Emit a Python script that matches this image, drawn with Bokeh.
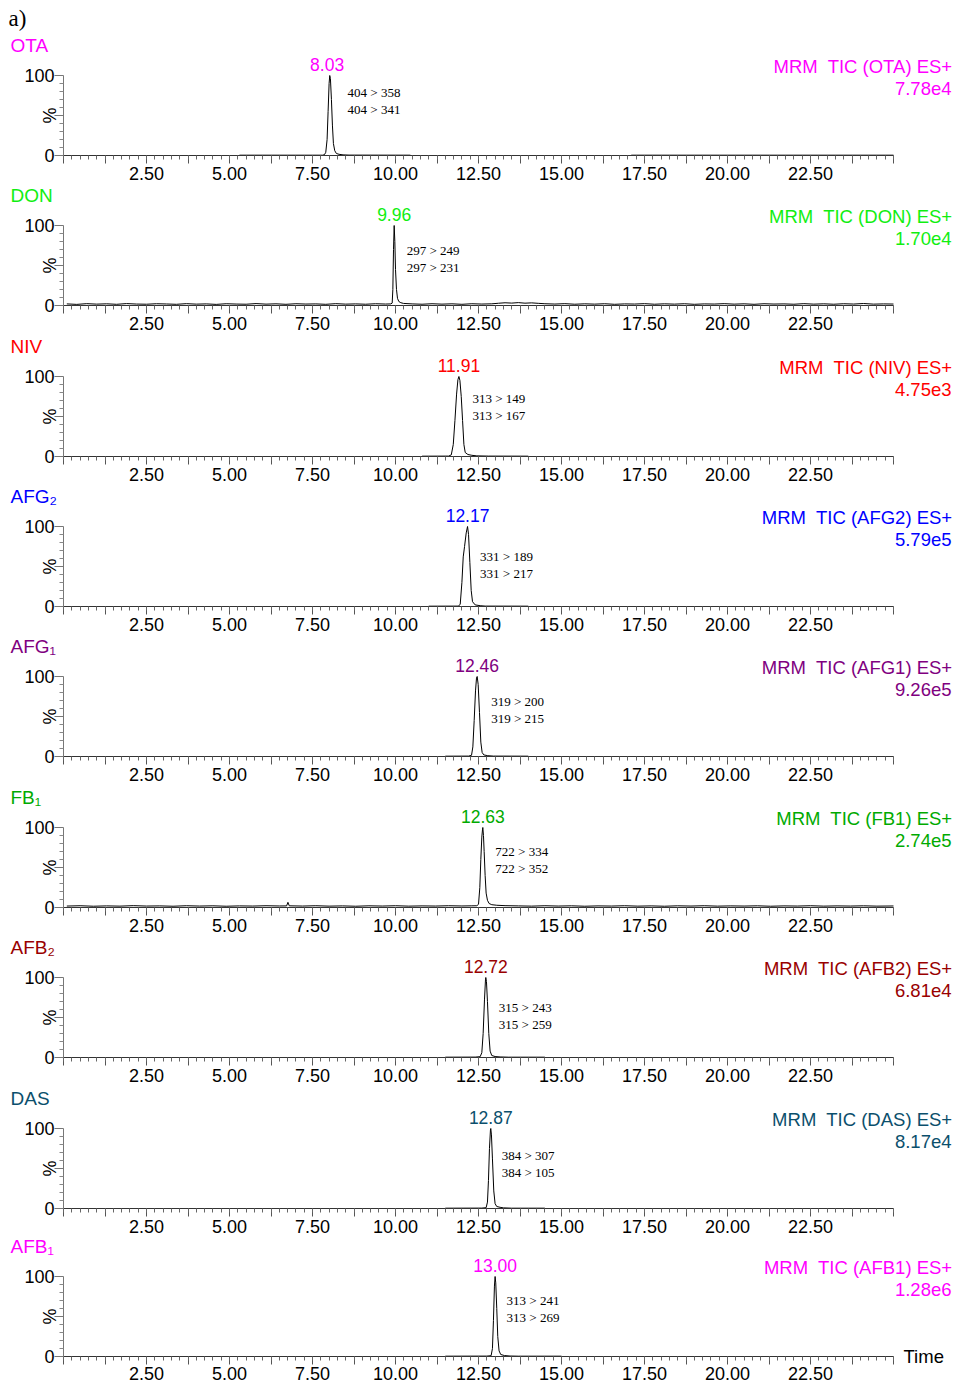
import math
from bokeh.plotting import figure
from bokeh.models import Range1d, FixedTicker, Label
from bokeh.layouts import column
from bokeh.embed import file_html
from bokeh.resources import INLINE

NaN = float("nan")

# ---------------- data ----------------
names = ["OTA", "DON", "NIV", "AFG\u2082", "AFG\u2081", "FB\u2081", "AFB\u2082", "DAS", "AFB\u2081"]
colors = ["#FF00FF", "#11EE11", "#FF0000", "#0000FF", "#800080", "#00AA00", "#990000", "#0B4F6C", "#FF00FF"]
peak_labels = ["8.03", "9.96", "11.91", "12.17", "12.46", "12.63", "12.72", "12.87", "13.00"]
peak_times = [8.03, 9.96, 11.91, 12.17, 12.46, 12.63, 12.72, 12.87, 13.00]
channels = ["MRM\u00a0 TIC (OTA) ES+", "MRM\u00a0 TIC (DON) ES+", "MRM\u00a0 TIC (NIV) ES+", "MRM\u00a0 TIC (AFG2) ES+",
            "MRM\u00a0 TIC (AFG1) ES+", "MRM\u00a0 TIC (FB1) ES+", "MRM\u00a0 TIC (AFB2) ES+", "MRM\u00a0 TIC (DAS) ES+",
            "MRM\u00a0 TIC (AFB1) ES+"]
max_intensity = ["7.78e4", "1.70e4", "4.75e3", "5.79e5", "9.26e5", "2.74e5", "6.81e4", "8.17e4", "1.28e6"]
transition_1 = ["404 > 358", "297 > 249", "313 > 149", "331 > 189", "319 > 200", "722 > 334", "315 > 243", "384 > 307", "313 > 241"]
transition_2 = ["404 > 341", "297 > 231", "313 > 167", "331 > 217", "319 > 215", "722 > 352", "315 > 259", "384 > 105", "313 > 269"]

x_tick_values = [2.5, 5.0, 7.5, 10.0, 12.5, 15.0, 17.5, 20.0, 22.5]
x_tick_labels = ["2.50", "5.00", "7.50", "10.00", "12.50", "15.00", "17.50", "20.00", "22.50"]
y_tick_values = [0, 100]
y_tick_labels = ["0", "100"]

# chromatogram traces: (time min, relative intensity %)
ota = [(5.30, 0.4), (7.80, 0.4), (7.86, 1.0), (7.90, 4), (7.94, 20), (7.97, 55), (8.00, 90), (8.02, 100),
       (8.04, 96), (8.07, 70), (8.10, 38), (8.13, 15), (8.17, 6), (8.22, 2.5), (8.30, 1.5), (8.42, 0.8),
       (8.60, 0.5), (10.45, 0.4), (NaN, NaN), (17.10, 0.4), (25.00, 0.4)]

don = [(0.10, 2.0), (0.40, 1.4), (0.70, 2.3), (1.00, 1.7), (1.30, 2.1), (1.60, 1.5), (1.90, 2.4), (2.20, 1.8),
       (2.50, 1.6), (2.80, 2.2), (3.10, 1.9), (3.40, 1.5), (3.70, 2.3), (4.00, 1.7), (4.30, 2.0), (4.60, 1.4),
       (4.90, 2.2), (5.20, 1.8), (5.50, 1.6), (5.80, 2.4), (6.10, 1.7), (6.40, 2.1), (6.70, 1.5), (7.00, 2.2),
       (7.30, 1.8), (7.60, 2.0), (7.90, 1.5), (8.20, 2.3), (8.50, 1.7), (8.80, 2.0), (9.10, 1.6), (9.40, 2.2),
       (9.70, 1.8), (9.86, 2.0), (9.90, 3.0), (9.92, 20), (9.94, 70), (9.96, 100), (9.98, 80), (10.00, 45),
       (10.03, 20), (10.06, 9), (10.10, 5), (10.16, 3.5), (10.24, 2.6), (10.50, 2.0), (10.80, 1.6), (11.10, 2.2),
       (11.40, 1.7), (11.70, 2.1), (12.00, 1.5), (12.30, 2.2), (12.60, 1.8), (12.90, 2.1), (13.10, 2.8),
       (13.30, 3.4), (13.50, 3.0), (13.70, 3.6), (13.90, 2.9), (14.10, 3.3), (14.30, 2.7), (14.50, 2.2),
       (14.80, 1.8), (15.10, 2.3), (15.40, 1.6), (15.70, 2.1), (16.00, 1.7), (16.30, 2.2), (16.60, 1.5),
       (16.90, 2.0), (17.20, 1.8), (17.50, 2.3), (17.80, 1.6), (18.10, 2.1), (18.40, 1.7), (18.70, 2.2),
       (19.00, 1.5), (19.30, 2.0), (19.60, 1.8), (19.90, 2.3), (20.20, 1.7), (20.50, 2.1), (20.80, 1.5),
       (21.10, 2.2), (21.40, 1.8), (21.70, 2.0), (22.00, 1.6), (22.30, 2.3), (22.60, 1.7), (22.90, 2.1),
       (23.20, 1.6), (23.50, 2.2), (23.80, 1.8), (24.10, 2.5), (24.40, 1.7), (24.70, 2.0), (25.00, 1.8)]

niv = [(10.80, 0.4), (11.60, 0.5), (11.68, 2), (11.74, 15), (11.79, 45), (11.84, 78), (11.88, 96), (11.91, 100),
       (11.94, 95), (11.98, 75), (12.02, 45), (12.06, 15), (12.10, 5), (12.18, 2.5), (12.30, 1.5), (12.45, 0.8),
       (12.80, 0.5), (14.00, 0.4)]

afg2 = [(11.00, 0.4), (11.90, 0.5), (11.95, 3), (12.00, 30), (12.04, 62), (12.08, 75), (12.13, 92), (12.17, 100),
        (12.20, 90), (12.24, 55), (12.28, 20), (12.32, 6), (12.40, 2), (12.55, 1), (12.70, 0.5), (14.00, 0.4)]

afg1 = [(11.50, 0.4), (12.20, 0.5), (12.29, 1.5), (12.33, 12), (12.37, 45), (12.41, 82), (12.44, 98), (12.46, 100),
        (12.49, 90), (12.53, 55), (12.57, 18), (12.61, 5), (12.66, 2), (12.78, 1), (12.95, 0.5), (14.00, 0.4)]

fb1 = [(0.10, 1.8), (0.50, 2.2), (0.90, 1.6), (1.30, 2.0), (1.70, 1.7), (2.10, 2.3), (2.50, 1.8), (2.90, 2.0),
       (3.30, 1.6), (3.70, 2.2), (4.10, 1.8), (4.50, 2.1), (4.90, 1.6), (5.30, 2.0), (5.70, 1.8), (6.10, 2.2),
       (6.50, 1.9), (6.72, 2.0), (6.76, 6.5), (6.80, 2.1), (7.20, 1.8), (7.60, 2.2), (8.00, 1.7), (8.40, 2.0),
       (8.80, 1.6), (9.20, 2.1), (9.60, 1.8), (10.00, 2.2), (10.40, 1.7), (10.80, 2.0), (11.20, 1.8), (11.60, 2.2),
       (12.00, 1.9), (12.30, 2.1), (12.45, 2.2), (12.50, 4), (12.54, 25), (12.57, 60), (12.60, 88), (12.62, 97),
       (12.63, 100), (12.65, 90), (12.67, 70), (12.70, 40), (12.73, 18), (12.77, 9), (12.82, 5), (12.90, 3.5),
       (13.05, 2.8), (13.30, 2.3), (13.70, 2.0), (14.10, 1.7), (14.50, 2.2), (14.90, 1.8), (15.30, 2.1),
       (15.70, 1.6), (16.10, 2.0), (16.50, 1.8), (16.90, 2.2), (17.30, 1.7), (17.70, 2.0), (18.10, 1.6),
       (18.50, 2.1), (18.90, 1.8), (19.30, 2.2), (19.70, 1.7), (20.10, 2.0), (20.50, 1.8), (20.90, 2.1),
       (21.30, 1.6), (21.70, 2.0), (22.10, 1.8), (22.50, 2.2), (22.90, 1.7), (23.30, 2.0), (23.70, 1.8),
       (24.10, 2.1), (24.50, 1.7), (25.00, 1.9)]

afb2 = [(11.50, 0.4), (12.40, 0.5), (12.55, 1), (12.60, 6), (12.64, 30), (12.68, 72), (12.71, 97), (12.72, 100),
        (12.74, 95), (12.77, 70), (12.81, 30), (12.85, 8), (12.90, 2.5), (13.00, 1.2), (13.15, 0.7), (13.40, 0.4),
        (14.50, 0.4)]

das = [(11.50, 0.4), (12.60, 0.5), (12.73, 1), (12.77, 8), (12.80, 35), (12.83, 75), (12.86, 98), (12.87, 100),
       (12.89, 92), (12.92, 62), (12.96, 22), (13.00, 6), (13.05, 2.5), (13.15, 1.5), (13.25, 0.8), (13.50, 0.4),
       (14.50, 0.4)]

afb1 = [(11.50, 0.4), (12.75, 0.5), (12.88, 1), (12.92, 10), (12.95, 45), (12.98, 88), (13.00, 100), (13.02, 92),
        (13.05, 60), (13.08, 25), (13.12, 7), (13.17, 2.5), (13.28, 1.2), (13.45, 0.6), (13.70, 0.4), (15.00, 0.4)]

traces = [ota, don, niv, afg2, afg1, fb1, afb2, das, afb1]

# ---------------- layout / style ----------------
FIG_W = 960
X0 = 63.0            # page x of time 0
PX_X = 33.2          # px per minute
PX_Y = 0.8           # px per percent
FONT = "Liberation Sans"
SERIF = "Liberation Serif"
top100 = [75, 225, 376, 526, 676, 827, 977, 1128, 1276]            # page y of 100 %
bounds = [0, 183, 334, 484, 635, 785, 936, 1086, 1237, 1385]        # panel borders (page y)
trans_dy = [17, 25, 22, 30, 25, 24, 30, 27, 24]                    # px below 100 %
trans_dx = [17.5, 12.5, 13.5, 12.5, 14, 12.5, 13, 11, 11.5]          # px right of peak
rt_dx = [-3, 0, 0, 0, 0, 0, 0, 0, 0]                                # px shift of RT label


def xd(px):
    return (px - X0) / PX_X


x_major = [i * 1.25 for i in range(21)]
x_minor = [i * 0.25 for i in range(101)]
x_over = {t: "" for t in x_major}
x_over.update(dict(zip(x_tick_values, x_tick_labels)))
y_over = {0: "", 50: "", 100: ""}
y_over.update(dict(zip(y_tick_values, y_tick_labels)))

n = len(names)
figs = []
for k in range(n):
    h = bounds[k + 1] - bounds[k]
    y_top = 100 + (top100[k] - bounds[k]) / PX_Y
    y_bot = 100 - (bounds[k + 1] - top100[k]) / PX_Y
    p = figure(width=FIG_W, height=h, x_range=Range1d(xd(0), xd(FIG_W)), y_range=Range1d(y_bot, y_top),
               output_backend="svg", toolbar_location=None, min_border=0,
               min_border_left=0, min_border_right=0, min_border_top=0, min_border_bottom=0)
    p.outline_line_color = None
    p.grid.visible = False
    p.background_fill_color = "white"
    p.border_fill_color = "white"

    xa = p.xaxis[0]
    xa.fixed_location = 0
    xa.bounds = (0, 25)
    xa.ticker = FixedTicker(ticks=x_major, minor_ticks=x_minor)
    xa.major_label_overrides = x_over
    xa.major_tick_out = 8
    xa.major_tick_in = 0
    xa.minor_tick_out = 4
    xa.minor_tick_in = 0
    xa.major_label_standoff = 2 if k == n - 1 else 3
    xa.major_label_text_font = FONT
    xa.major_label_text_font_size = "18px"
    xa.major_label_text_color = "black"
    xa.axis_line_color = "#333333"
    xa.major_tick_line_color = "#555555"
    xa.minor_tick_line_color = "#666666"

    ya = p.yaxis[0]
    ya.fixed_location = 0
    ya.bounds = (0, 100)
    ya.ticker = FixedTicker(ticks=[0, 50, 100], minor_ticks=[10, 20, 30, 40, 60, 70, 80, 90])
    ya.major_label_overrides = y_over
    ya.major_tick_out = 9
    ya.major_tick_in = 0
    ya.minor_tick_out = 4
    ya.minor_tick_in = 0
    ya.major_label_standoff = 0
    ya.major_label_text_font = FONT
    ya.major_label_text_font_size = "18px"
    ya.major_label_text_color = "black"
    ya.axis_line_color = "#777777"
    ya.major_tick_line_color = "#777777"
    ya.minor_tick_line_color = "#888888"

    t = [a for a, b in traces[k]]
    v = [b for a, b in traces[k]]
    p.line(t, v, line_color="black", line_width=1)

    c = colors[k]
    # compound name
    p.add_layout(Label(x=xd(10), y=100 + 30 / PX_Y, text=names[k], text_color=c, text_font=FONT,
                       text_font_size="19px", text_baseline="middle", text_align="left"))
    # retention time label
    p.add_layout(Label(x=peak_times[k] + rt_dx[k] / PX_X, y=100 + 11 / PX_Y, text=peak_labels[k], text_color=c,
                       text_font=FONT, text_font_size="17.5px", text_baseline="middle", text_align="center"))
    # channel description (right)
    p.add_layout(Label(x=xd(952), y=100 + 9 / PX_Y, text=channels[k], text_color=c, text_font=FONT,
                       text_font_size="18.5px", text_baseline="middle", text_align="right"))
    p.add_layout(Label(x=xd(951), y=100 - 13 / PX_Y, text=max_intensity[k], text_color=c,
                       text_font=FONT, text_font_size="18.5px", text_baseline="middle", text_align="right"))
    # transitions
    tx = peak_times[k] + trans_dx[k] / PX_X
    p.add_layout(Label(x=tx, y=100 - trans_dy[k] / PX_Y, text=transition_1[k], text_color="black",
                       text_font=SERIF, text_font_size="13px", text_baseline="middle", text_align="left"))
    p.add_layout(Label(x=tx, y=100 - (trans_dy[k] + 17) / PX_Y, text=transition_2[k], text_color="black",
                       text_font=SERIF, text_font_size="13px", text_baseline="middle", text_align="left"))
    # percent sign
    p.add_layout(Label(x=xd(49), y=50, text="%", angle=math.pi / 2, text_color="black", text_font=FONT,
                       text_font_size="18px", text_baseline="middle", text_align="center"))
    if k == 0:
        p.add_layout(Label(x=xd(8), y=100 + 57 / PX_Y, text="a)", text_color="black", text_font=SERIF,
                           text_font_size="23px", text_baseline="middle", text_align="left"))
    if k == n - 1:
        p.add_layout(Label(x=xd(903), y=0, text="Time", text_color="black", text_font=FONT,
                           text_font_size="18.5px", text_baseline="middle", text_align="left"))
    figs.append(p)

layout = column(*figs, spacing=0)
open("out.html", "w").write(file_html(layout, INLINE))
